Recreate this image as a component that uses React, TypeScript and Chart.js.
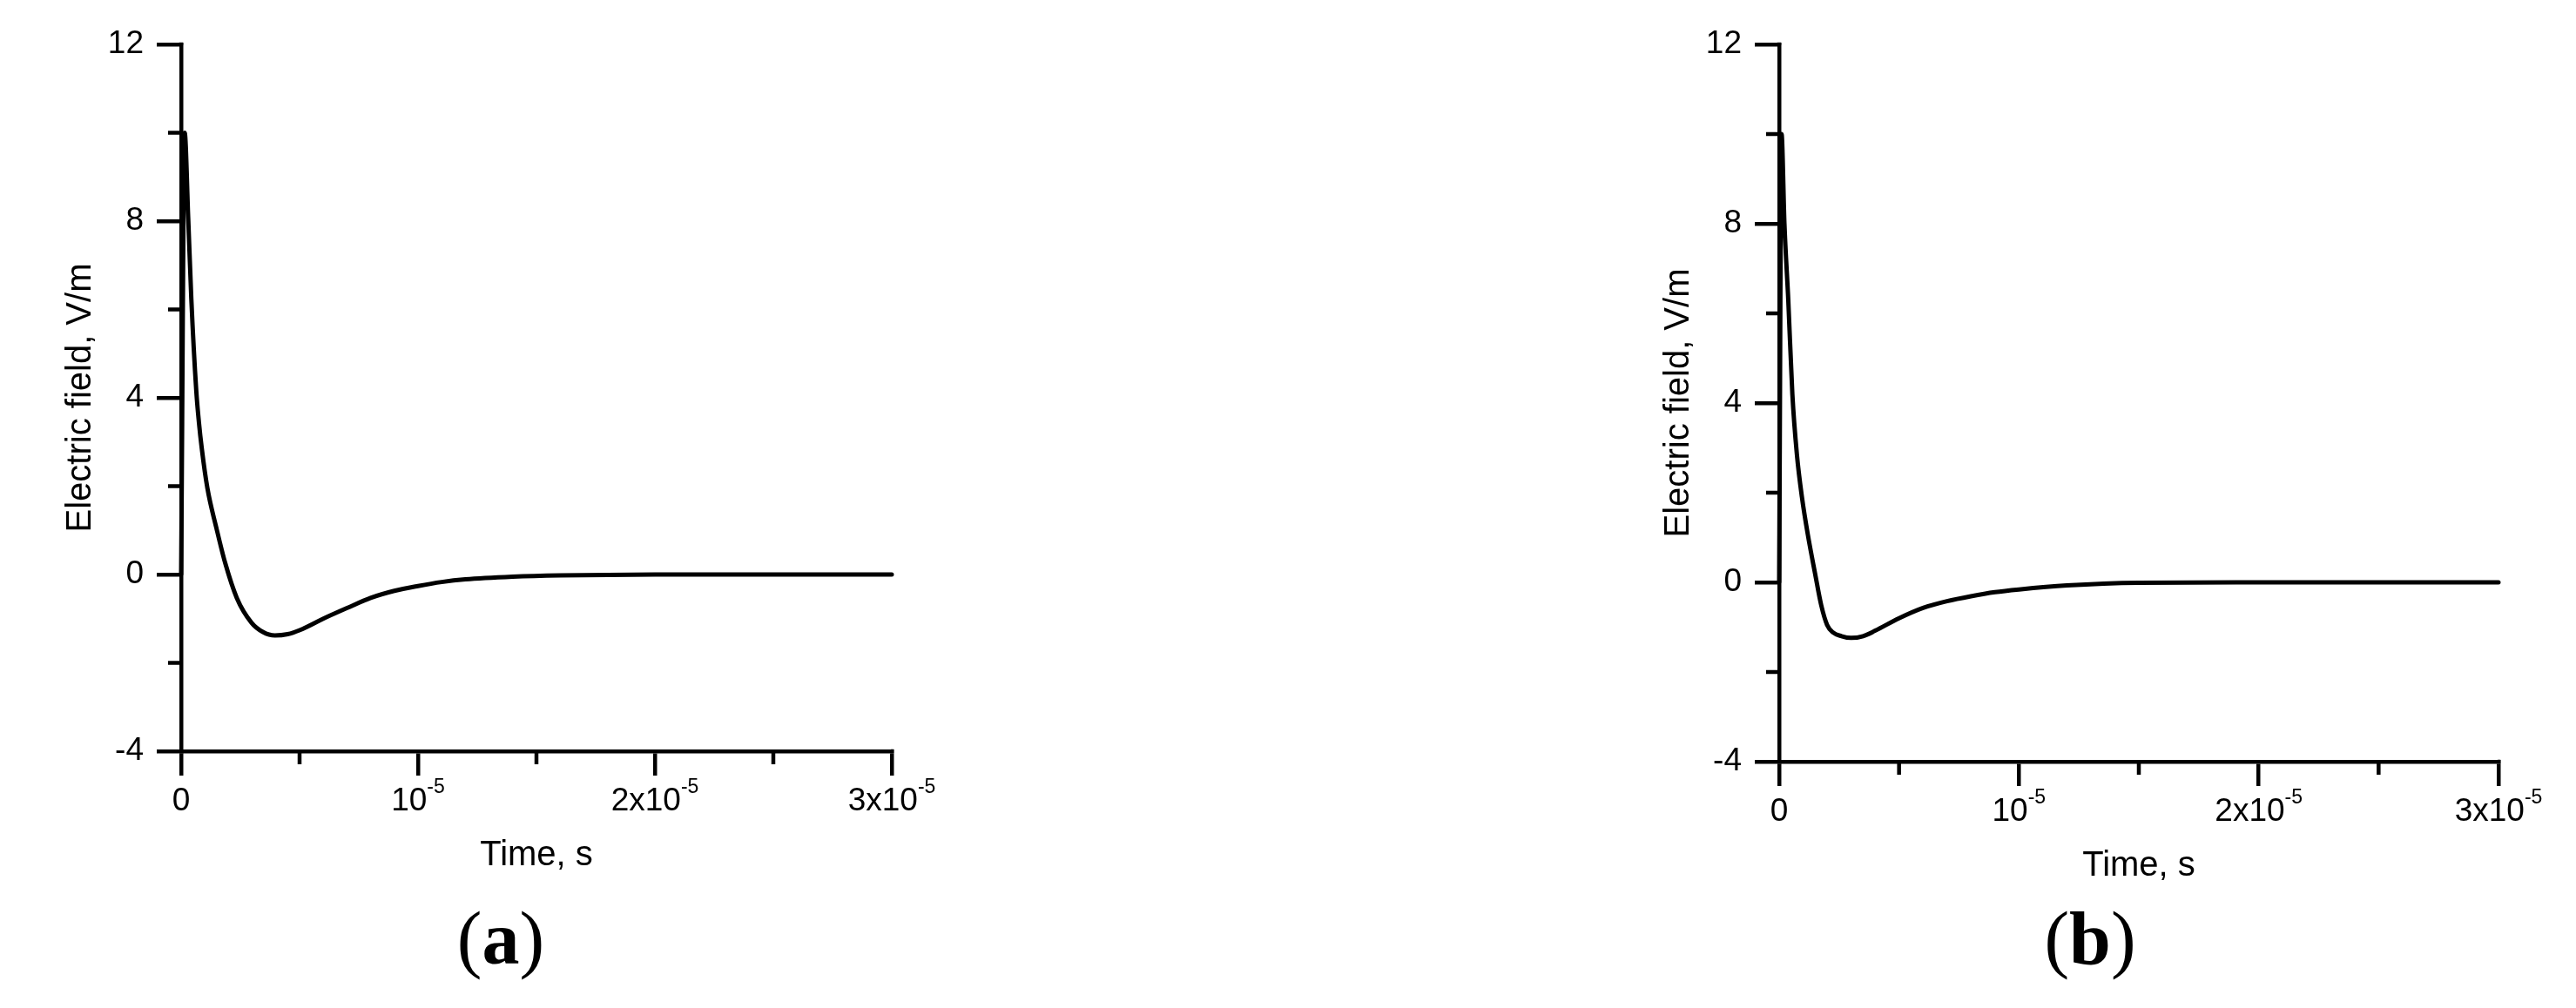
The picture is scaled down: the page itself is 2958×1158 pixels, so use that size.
import React, { useEffect, useRef } from 'react';
import { Chart, registerables } from 'chart.js';

Chart.register(...registerables);

// ---------- data ----------
const timeA = [0, 1.5e-7, 3e-7, 4.3e-7, 6.4e-7, 7.5e-7, 8.7e-7, 1.11e-6, 1.49e-6, 1.86e-6, 2.35e-6, 2.97e-6, 3.45e-6, 3.96e-6, 4.5e-6, 5e-6, 6e-6, 7e-6, 8e-6, 9e-6, 1e-5, 1.1e-5, 1.2e-5, 1.4e-5, 1.6e-5, 2e-5, 3e-5];
const fieldA = [0, 10, 8.05, 6.24, 4.15, 3.45, 2.86, 1.95, 1.05, 0.26, -0.53, -1.09, -1.3, -1.38, -1.35, -1.26, -1.0, -0.76, -0.53, -0.37, -0.26, -0.17, -0.11, -0.05, -0.02, 0, 0];

const timeB = [0, 1e-7, 2.2e-7, 3.8e-7, 5.5e-7, 7.4e-7, 9.5e-7, 1.2e-6, 1.5e-6, 1.75e-6, 2e-6, 2.25e-6, 2.6e-6, 3e-6, 3.5e-6, 4e-6, 5e-6, 6e-6, 7e-6, 8e-6, 9e-6, 1e-5, 1.2e-5, 1.5e-5, 2e-5, 3e-5];
const fieldB = [0, 10, 8.0, 6.3, 4.2, 2.85, 1.9, 1.05, 0.19, -0.5, -0.95, -1.12, -1.2, -1.24, -1.2, -1.08, -0.8, -0.57, -0.42, -0.31, -0.22, -0.16, -0.07, -0.01, 0, 0];

const yMajorTicks = [-4, 0, 4, 8, 12];
const yMinorTicks = [-2, 2, 6, 10];
const xMajorTicks = [0, 1e-5, 2e-5, 3e-5];
const xMinorTicks = [5e-6, 1.5e-5, 2.5e-5];
const xTickBase = ['0', '10', '2x10', '3x10'];
const xTickExp = ['', '-5', '-5', '-5'];
const yTitle = 'Electric field, V/m';
const xTitle = 'Time, s';
const panelLetters = ['a', 'b'];

// ---------- layout / style ----------
const PAGE_W = 2958;
const PAGE_H = 1158;
const SANS = '"Liberation Sans", Arial, sans-serif';
const TICK_FONT = 37;
const EXP_FONT = 23;
const EXP_RAISE = 20;
const TITLE_FONT = 40;
const AXIS_W = 4.5;
const CURVE_W = 5;
const MAJOR_LEN = 28;
const MINOR_LEN = 15;

type Panel = {
  time: number[];
  field: number[];
  letter: string;
  canvasLeft: number;
  canvasWidth: number;
  plotLeft: number;
  plotTop: number;
  plotRight: number;
  plotBottom: number;
  yTitleX: number;
  xTitleY: number;
  tickBaseline: number;
  letterX: number;
};

const panels: Panel[] = [
  {
    time: timeA, field: fieldA, letter: panelLetters[0],
    canvasLeft: 0, canvasWidth: 1200,
    plotLeft: 208, plotTop: 51, plotRight: 1024, plotBottom: 863,
    yTitleX: 93, xTitleY: 983, tickBaseline: 931, letterX: 575,
  },
  {
    time: timeB, field: fieldB, letter: panelLetters[1],
    canvasLeft: 1840, canvasWidth: 1118,
    plotLeft: 2043, plotTop: 51, plotRight: 2869, plotBottom: 875,
    yTitleX: 1928, xTitleY: 995, tickBaseline: 943, letterX: 2400,
  },
];

function ChartPanel({ p }: { p: Panel }) {
  const ref = useRef<HTMLCanvasElement | null>(null);

  useEffect(() => {
    const canvas = ref.current;
    if (!canvas) return;
    const W = p.canvasWidth;
    const H = PAGE_H;
    const yScaleW = p.plotLeft - p.canvasLeft;
    const padRight = W - (p.plotRight - p.canvasLeft);
    const xScaleH = H - p.plotBottom;
    const titleLH = TITLE_FONT * 1.2;
    const yTitlePad = p.yTitleX - p.canvasLeft - titleLH / 2;
    const xTitlePad = H - p.xTitleY - titleLH / 2;
    const labelBaseline = p.tickBaseline;

    const extras = {
      id: 'extras',
      afterDraw(chart: any) {
        const { ctx, chartArea, scales } = chart;
        const xs = scales.x;
        const ys = scales.y;
        ctx.save();
        ctx.strokeStyle = '#000';
        ctx.lineWidth = AXIS_W;
        ctx.lineCap = 'butt';
        ctx.beginPath();
        for (const v of yMinorTicks) {
          const py = ys.getPixelForValue(v);
          ctx.moveTo(chartArea.left - MINOR_LEN, py);
          ctx.lineTo(chartArea.left, py);
        }
        for (const v of xMinorTicks) {
          const px = xs.getPixelForValue(v);
          ctx.moveTo(px, chartArea.bottom);
          ctx.lineTo(px, chartArea.bottom + MINOR_LEN);
        }
        // close the axis corners
        ctx.moveTo(chartArea.left, chartArea.top - AXIS_W / 2);
        ctx.lineTo(chartArea.left, chartArea.top + 1);
        ctx.moveTo(chartArea.right - 1, chartArea.bottom);
        ctx.lineTo(chartArea.right + AXIS_W / 2, chartArea.bottom);
        ctx.stroke();

        ctx.fillStyle = '#000';
        ctx.textBaseline = 'alphabetic';
        ctx.textAlign = 'left';
        xMajorTicks.forEach((v, i) => {
          const px = xs.getPixelForValue(v);
          const base = xTickBase[i];
          const exp = xTickExp[i];
          ctx.font = `${TICK_FONT}px ${SANS}`;
          const wb = ctx.measureText(base).width;
          ctx.font = `${EXP_FONT}px ${SANS}`;
          const we = exp ? ctx.measureText(exp).width : 0;
          const x0 = px - (wb + we) / 2;
          ctx.font = `${TICK_FONT}px ${SANS}`;
          ctx.fillText(base, x0, labelBaseline);
          if (exp) {
            ctx.font = `${EXP_FONT}px ${SANS}`;
            ctx.fillText(exp, x0 + wb, labelBaseline - EXP_RAISE);
          }
        });
        ctx.restore();
      },
    };

    const chart = new Chart(canvas, {
      type: 'line',
      data: {
        datasets: [
          {
            data: p.time.map((t, i) => ({ x: t, y: p.field[i] })),
            borderColor: '#000',
            borderWidth: CURVE_W,
            pointRadius: 0,
            fill: false,
            cubicInterpolationMode: 'monotone',
            borderJoinStyle: 'round',
            borderCapStyle: 'round',
            clip: false as any,
          } as any,
        ],
      },
      options: {
        responsive: false,
        animation: false,
        devicePixelRatio: 1,
        events: [],
        layout: { padding: { left: 0, top: p.plotTop, right: padRight, bottom: 0 } },
        plugins: {
          legend: { display: false },
          tooltip: { enabled: false },
        },
        scales: {
          x: {
            type: 'linear',
            min: 0,
            max: 3e-5,
            afterBuildTicks: (s: any) => {
              s.ticks = xMajorTicks.map((v) => ({ value: v }));
            },
            afterFit: (s: any) => {
              s.height = xScaleH;
            },
            ticks: { display: false },
            grid: {
              display: true,
              drawOnChartArea: false,
              drawTicks: true,
              tickLength: MAJOR_LEN,
              tickWidth: AXIS_W,
              lineWidth: AXIS_W,
              tickColor: '#000',
              color: '#000',
            },
            border: { display: true, color: '#000', width: AXIS_W },
            title: {
              display: true,
              text: xTitle,
              color: '#000',
              font: { family: SANS, size: TITLE_FONT },
              padding: { top: 0, bottom: xTitlePad },
            },
          },
          y: {
            type: 'linear',
            min: -4,
            max: 12,
            afterBuildTicks: (s: any) => {
              s.ticks = yMajorTicks.map((v) => ({ value: v }));
            },
            afterFit: (s: any) => {
              s.width = yScaleW;
            },
            ticks: {
              color: '#000',
              font: { family: SANS, size: TICK_FONT },
              padding: 15,
            },
            grid: {
              display: true,
              drawOnChartArea: false,
              drawTicks: true,
              tickLength: MAJOR_LEN,
              tickWidth: AXIS_W,
              lineWidth: AXIS_W,
              tickColor: '#000',
              color: '#000',
            },
            border: { display: true, color: '#000', width: AXIS_W },
            title: {
              display: true,
              text: yTitle,
              color: '#000',
              font: { family: SANS, size: TITLE_FONT },
              padding: { top: yTitlePad, bottom: 0 },
            },
          },
        },
      } as any,
      plugins: [extras as any],
    });
    return () => chart.destroy();
  }, [p]);

  return (
    <>
      <canvas
        ref={ref}
        width={p.canvasWidth}
        height={PAGE_H}
        style={{
          position: 'absolute',
          left: p.canvasLeft,
          top: 0,
          width: p.canvasWidth,
          height: PAGE_H,
          display: 'block',
        }}
      />
      <div
        style={{
          position: 'absolute',
          left: p.letterX,
          top: 1035,
          transform: 'translateX(-50%)',
          fontFamily: '"Liberation Serif", "Times New Roman", serif',
          fontSize: 86,
          lineHeight: '86px',
          whiteSpace: 'nowrap',
          color: '#000',
        }}
      >
        (<b>{p.letter}</b>)
      </div>
    </>
  );
}

export default function App() {
  return (
    <div
      style={{
        position: 'absolute',
        left: 0,
        top: 0,
        width: PAGE_W,
        height: PAGE_H,
        background: '#fff',
        overflow: 'hidden',
      }}
    >
      {panels.map((p) => (
        <ChartPanel key={p.letter} p={p} />
      ))}
    </div>
  );
}
